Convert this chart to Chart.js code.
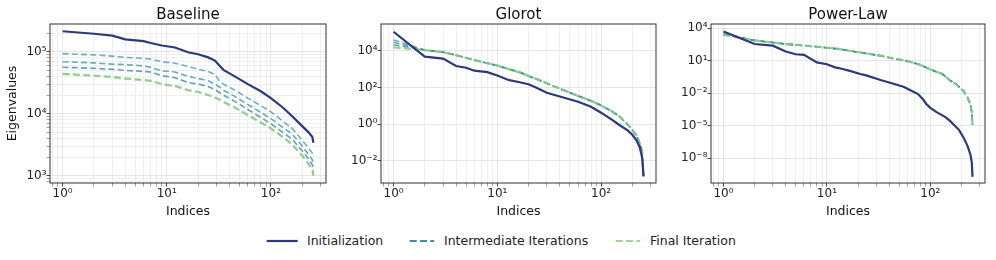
<!DOCTYPE html>
<html>
<head>
<meta charset="utf-8">
<script src="https://cdn.jsdelivr.net/npm/chart.js@4.4.1/dist/chart.umd.min.js"></script>
<style>
  body { margin: 0; background: #fff; width: 996px; height: 260px; position: relative; overflow: hidden; font-family: "DejaVu Sans", sans-serif; }
  canvas.panel { position: absolute; top: 0; }
  canvas.swatch { position: absolute; top: 237px; }
  .leg { position: absolute; top: 233px; font-size: 12.5px; line-height: 15px; color: #222; white-space: nowrap; }
</style>
</head>
<body>
<canvas id="c-baseline" class="panel" width="330" height="225" style="left:0px"></canvas>
<canvas id="c-glorot" class="panel" width="330" height="225" style="left:330px"></canvas>
<canvas id="c-power" class="panel" width="336" height="225" style="left:660px"></canvas>

<canvas id="sw-init" class="swatch" width="34" height="8" style="left:266px"></canvas>
<div class="leg" style="left:307px">Initialization</div>
<canvas id="sw-mid" class="swatch" width="34" height="8" style="left:409px"></canvas>
<div class="leg" style="left:444px">Intermediate Iterations</div>
<canvas id="sw-final" class="swatch" width="34" height="8" style="left:615px"></canvas>
<div class="leg" style="left:650px">Final Iteration</div>

<script>
// ---- data (index, eigenvalue) ----
const baselineIdx = [1, 2, 3, 4, 6, 7, 9, 12, 16, 20, 25, 29, 32, 35, 45, 60, 80, 100, 130, 160, 200, 230, 250, 256];
const baselineInit = [2.14e5, 1.95e5, 1.82e5, 1.58e5, 1.48e5, 1.38e5, 1.26e5, 1.17e5, 9.8e4, 9.1e4, 8.1e4, 7.2e4, 6.0e4, 5.1e4, 4.0e4, 3.0e4, 2.3e4, 1.78e4, 1.26e4, 9.1e3, 6.3e3, 5.0e3, 4.2e3, 3.4e3];
const baselineMid1 = [9.3e4, 8.9e4, 8.5e4, 8.1e4, 7.8e4, 7.6e4, 6.9e4, 6.5e4, 5.8e4, 5.2e4, 4.8e4, 4.3e4, 3.4e4, 3.0e4, 2.4e4, 1.78e4, 1.35e4, 1.07e4, 7.6e3, 5.8e3, 3.7e3, 2.8e3, 2.3e3, 2.0e3];
const baselineMid2 = [6.9e4, 6.6e4, 6.3e4, 6.2e4, 5.9e4, 5.6e4, 4.9e4, 4.7e4, 4.0e4, 3.7e4, 3.4e4, 3.0e4, 2.7e4, 2.4e4, 1.9e4, 1.41e4, 1.05e4, 8.3e3, 6.0e3, 4.7e3, 3.0e3, 2.2e3, 1.8e3, 1.55e3];
const baselineMid3 = [5.6e4, 5.4e4, 5.2e4, 5.0e4, 4.8e4, 4.7e4, 4.1e4, 3.8e4, 3.2e4, 3.0e4, 2.75e4, 2.45e4, 2.2e4, 2.0e4, 1.58e4, 1.17e4, 8.7e3, 6.9e3, 5.0e3, 3.9e3, 2.5e3, 1.86e3, 1.5e3, 1.29e3];
const baselineFinal = [4.4e4, 4.1e4, 3.9e4, 3.7e4, 3.5e4, 3.4e4, 3.0e4, 2.8e4, 2.4e4, 2.24e4, 2.0e4, 1.82e4, 1.7e4, 1.55e4, 1.26e4, 9.5e3, 7.2e3, 5.8e3, 4.2e3, 3.2e3, 2.1e3, 1.55e3, 1.26e3, 1.0e3];

const glorotInitIdx = [1, 2, 3, 4, 5, 6, 8, 10, 13, 16, 20, 23, 30, 40, 60, 80, 100, 130, 150, 180, 200, 220, 235, 245, 250, 256];
const glorotInit = [1.12e5, 4.9e3, 3.8e3, 1.5e3, 1.2e3, 830, 690, 457, 251, 200, 151, 105, 52, 32, 16.6, 8.9, 4.2, 1.6, 0.89, 0.45, 0.26, 0.126, 0.056, 0.022, 0.011, 1.4e-3];
const glorotIterIdx = [1, 2, 3, 4, 6, 8, 10, 13, 17, 21, 25, 33, 45, 59, 80, 100, 130, 153, 190, 215, 230, 247, 256];
const glorotMid1 = [3.98e4, 1.12e4, 8.5e3, 5.9e3, 3.16e3, 2.14e3, 1.58e3, 1.0e3, 631, 380, 263, 135, 66, 36, 18.6, 10.5, 4.6, 2.4, 0.69, 0.28, 0.129, 0.036, 1.4e-3];
const glorotMid2 = [2.95e4, 1.12e4, 8.5e3, 5.9e3, 3.16e3, 2.14e3, 1.58e3, 1.0e3, 631, 380, 263, 135, 66, 36, 18.6, 10.5, 4.6, 2.4, 0.69, 0.28, 0.129, 0.036, 1.4e-3];
const glorotMid3 = [2.19e4, 1.12e4, 8.5e3, 5.9e3, 3.16e3, 2.14e3, 1.58e3, 1.0e3, 631, 380, 263, 135, 66, 36, 18.6, 10.5, 4.6, 2.4, 0.69, 0.28, 0.129, 0.036, 1.4e-3];
const glorotFinal = [1.58e4, 1.12e4, 8.5e3, 5.9e3, 3.16e3, 2.14e3, 1.58e3, 1.0e3, 631, 380, 263, 135, 66, 36, 18.6, 10.5, 4.6, 2.4, 0.69, 0.28, 0.129, 0.036, 1.4e-3];

const powerInitIdx = [1, 2, 3, 4, 5, 6, 8, 10, 12, 13, 17, 21, 24, 33, 40, 55, 65, 76, 85, 91, 100, 115, 140, 155, 190, 210, 230, 245, 252, 256];
const powerInit = [5.0e3, 355, 251, 71, 40, 35.5, 7.1, 4.8, 2.5, 2.14, 1.12, 0.60, 0.45, 0.17, 0.1, 0.041, 0.0178, 8.5e-3, 2.8e-3, 1.1e-3, 4.5e-4, 1.8e-4, 6.3e-5, 2.8e-5, 4.0e-6, 8.0e-7, 1.26e-7, 2.0e-8, 4.0e-9, 1.9e-10];
const powerIterIdx = [1, 2, 4, 8, 13, 20, 33, 45, 59, 80, 100, 130, 155, 180, 210, 230, 245, 252, 256];
const powerMid1 = [3.2e3, 759, 355, 200, 123, 63, 29.5, 15.1, 10, 4.2, 1.58, 0.63, 0.158, 0.063, 0.0158, 4.0e-3, 7.9e-4, 1.58e-4, 1.26e-5];
const powerMid2 = [2.9e3, 759, 355, 200, 123, 63, 29.5, 15.1, 10, 4.2, 1.58, 0.63, 0.158, 0.063, 0.0158, 4.0e-3, 7.9e-4, 1.58e-4, 1.26e-5];
const powerMid3 = [2.7e3, 759, 355, 200, 123, 63, 29.5, 15.1, 10, 4.2, 1.58, 0.63, 0.158, 0.063, 0.0158, 4.0e-3, 7.9e-4, 1.58e-4, 1.26e-5];
const powerFinal = [2.5e3, 759, 355, 200, 123, 63, 29.5, 15.1, 10, 4.2, 1.58, 0.63, 0.158, 0.063, 0.0158, 4.0e-3, 7.9e-4, 1.58e-4, 1.26e-5];

// labelled decades on each axis
const xDecades = [0, 1, 2];
const baselineYDecades = [3, 4, 5];
const glorotYDecades = [-2, 0, 2, 4];
const powerYDecades = [-8, -5, -2, 1, 4];

const INIT_COLOR = '#2c397a';
const MID_COLORS = ['rgba(78,156,176,0.8)', 'rgba(66,146,168,0.8)', 'rgba(58,136,162,0.8)'];
const FINAL_COLOR = 'rgba(140,200,136,0.9)';

Chart.defaults.font.family = '"DejaVu Sans", sans-serif';
Chart.defaults.color = '#222';

const SUP = { '0': '⁰', '1': '¹', '2': '²', '3': '³', '4': '⁴', '5': '⁵', '6': '⁶', '7': '⁷', '8': '⁸', '9': '⁹', '-': '⁻' };
function powLabel(e) {
    return '10' + String(e).split('').map(c => SUP[c]).join('');
}

function decadeOf(v) {
    const e = Math.round(Math.log10(v));
    return Math.abs(Math.log10(v) - e) < 1e-6 ? e : null;
}

// tick values: every labelled decade, plus 2..9 minors if wanted
function buildTicks(min, max, decades, withMinor) {
    const out = [];
    const lo = Math.floor(Math.log10(min)), hi = Math.ceil(Math.log10(max));
    for (let e = lo; e <= hi; e++) {
        for (let m = 1; m <= 9; m++) {
            if (m === 1 && !decades.includes(e) && !withMinor) continue;
            if (m > 1 && !withMinor) continue;
            const v = m * Math.pow(10, e);
            if (v >= min && v <= max) out.push({ value: v });
        }
    }
    return out;
}

function axisOpts(min, max, decades, withMinor, extra) {
    const isMajor = v => decades.includes(decadeOf(v));
    return Object.assign({
        type: 'logarithmic',
        min: min,
        max: max,
        border: { display: false },
        afterBuildTicks: s => { s.ticks = buildTicks(min, max, decades, withMinor); },
        grid: {
            color: c => isMajor(c.tick.value) ? '#e0e0e0' : '#ebebeb',
            lineWidth: 0.8,
            tickLength: 3.5,
            tickColor: c => isMajor(c.tick.value) ? '#333' : '#666',
            tickWidth: c => isMajor(c.tick.value) ? 0.9 : 0.6
        },
        ticks: {
            autoSkip: false,
            maxRotation: 0,
            padding: 0,
            font: { size: 12 },
            color: '#222',
            callback: v => isMajor(v) ? powLabel(decadeOf(v)) : ''
        }
    }, extra || {});
}

const framePlugin = {
    id: 'frame',
    afterDatasetsDraw(chart, args, opts) {
        const { ctx, chartArea: a } = chart;
        ctx.save();
        ctx.strokeStyle = '#333';
        ctx.lineWidth = 1;
        ctx.strokeRect(a.left, a.top, a.right - a.left, a.bottom - a.top);
        ctx.fillStyle = '#111';
        ctx.font = '15px "DejaVu Sans"';
        ctx.textAlign = 'center';
        ctx.textBaseline = 'alphabetic';
        ctx.fillText(opts.title, (a.left + a.right) / 2, 18.5);
        ctx.restore();
    }
};

function series(idx, vals, label, color, width, dash, order) {
    return {
        label: label,
        data: idx.map((x, i) => ({ x: x, y: vals[i] })),
        borderColor: color,
        borderWidth: width,
        borderDash: dash,
        pointRadius: 0,
        tension: 0,
        fill: false,
        order: order
    };
}

function makePanel(id, title, datasets, yMin, yMax, yDecades, yMinor, yTitle, rightPad) {
    const yWidth = yTitle ? 50 : 51;
    new Chart(document.getElementById(id), {
        type: 'line',
        data: { datasets: datasets },
        options: {
            responsive: false,
            animation: false,
            devicePixelRatio: 1,
            events: [],
            layout: { padding: { top: 24, right: rightPad, bottom: 0, left: 0 } },
            plugins: { legend: { display: false }, tooltip: { enabled: false }, frame: { title: title } },
            scales: {
                x: axisOpts(0.757, 338, xDecades, true, {
                    position: 'bottom',
                    afterFit: s => { s.height = 42; },
                    title: { display: true, text: 'Indices', font: { size: 12.5 }, color: '#111', padding: { top: 0, bottom: 5.5 } }
                }),
                y: axisOpts(yMin, yMax, yDecades, yMinor, {
                    position: 'left',
                    afterFit: s => { s.width = yWidth; },
                    title: { display: !!yTitle, text: yTitle || '', font: { size: 12.5 }, color: '#111', padding: { top: 5.5, bottom: 0 } }
                })
            }
        },
        plugins: [framePlugin]
    });
}

function iterSets(idxInit, init, idxIter, mids, fin) {
    const sets = [series(idxInit, init, 'Initialization', INIT_COLOR, 2.2, [], 0)];
    mids.forEach((m, i) => sets.push(series(idxIter, m, 'Intermediate Iterations', MID_COLORS[i], 1.6, [6, 3.2], 4 - i)));
    sets.push(series(idxIter, fin, 'Final Iteration', FINAL_COLOR, 2.3, [7, 3.3], 1));
    return sets;
}

makePanel('c-baseline', 'Baseline',
    iterSets(baselineIdx, baselineInit, baselineIdx, [baselineMid1, baselineMid2, baselineMid3], baselineFinal),
    762, 2.8e5, baselineYDecades, true, 'Eigenvalues', 4);
makePanel('c-glorot', 'Glorot',
    iterSets(glorotInitIdx, glorotInit, glorotIterIdx, [glorotMid1, glorotMid2, glorotMid3], glorotFinal),
    6.3e-4, 2.97e5, glorotYDecades, false, null, 4);
makePanel('c-power', 'Power-Law',
    iterSets(powerInitIdx, powerInit, powerIterIdx, [powerMid1, powerMid2, powerMid3], powerFinal),
    5.2e-11, 2.5e4, powerYDecades, false, null, 11);

// legend swatches
function swatch(id, color, width, dash, len) {
    const ctx = document.getElementById(id).getContext('2d');
    ctx.strokeStyle = color;
    ctx.lineWidth = width;
    ctx.setLineDash(dash);
    ctx.beginPath();
    ctx.moveTo(0.7, 4);
    ctx.lineTo(0.7 + len, 4);
    ctx.stroke();
}
swatch('sw-init', INIT_COLOR, 2.2, [], 31);
swatch('sw-mid', '#3d8fa2', 2.2, [7, 3.3], 24.5);
swatch('sw-final', '#a2d29b', 2.2, [7, 3.3], 24.5);
</script>
</body>
</html>
